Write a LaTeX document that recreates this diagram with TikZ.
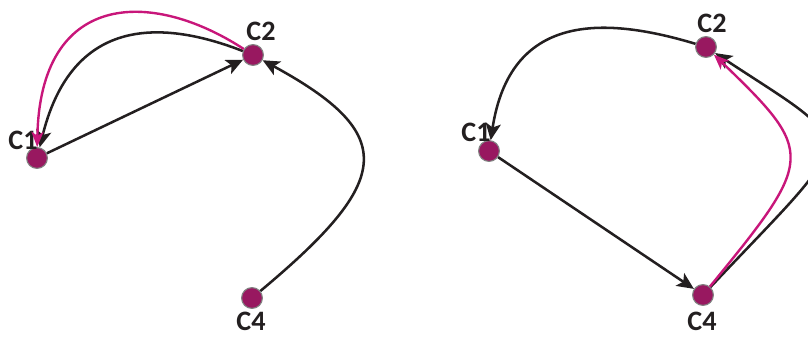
\documentclass[tikz,border=0pt]{standalone}
\usepackage{fontspec}
\setmainfont{Carlito}
\usepackage{tikz}
\usetikzlibrary{arrows.meta}
\definecolor{vtxfill}{RGB}{152,24,96}
\definecolor{vtxline}{RGB}{130,130,130}
\definecolor{hotpink}{RGB}{200,22,122}
\definecolor{ink}{RGB}{35,31,32}
\tikzset{
  vtx/.style={circle, fill=vtxfill, draw=vtxline, line width=0.8pt, minimum size=0.52cm, inner sep=0pt},
  lbl/.style={font=\fontsize{20}{22}\selectfont\bfseries, text=ink, inner sep=0pt},
  edg/.style={-{Stealth[length=4.2mm,width=3.8mm,inset=1mm]}, line width=1.8pt, ink},
  hot/.style={-{Stealth[length=3.8mm,width=3mm,inset=1mm]}, line width=1.7pt, hotpink},
}

\begin{document}
\begin{tikzpicture}[x=0.025cm,y=-0.025cm]
  \useasboundingbox (0,0) rectangle (808,337);
  \clip (0,0) rectangle (808,337);

  % --- left ---
  \node[vtx] (a1) at (37,158) {};
  \node[vtx] (a2) at (253,55) {};
  \node[vtx] (a4) at (252,298) {};
  \node[lbl] (a1t) at (23,140) {C1};
  \node[lbl] (a2t) at (261,31) {C2};
  \node[lbl] (a4t) at (251,321) {C4};
  \draw[edg] (a1) -- (a2);
  \draw[edg] (a2) .. controls (150,15) and (70,25) .. (a1);
  \draw[hot] (a2) .. controls (150,-12) and (40,-8) .. (a1);
  \draw[edg] (a4) .. controls (392,181) and (400,135) .. (a2);

  % --- right ---
  \node[vtx] (b1) at (489,151) {};
  \node[vtx] (b2) at (706,47) {};
  \node[vtx] (b4) at (703,295) {};
  \node[lbl] (b1t) at (476,132) {C1};
  \node[lbl] (b2t) at (712,23) {C2};
  \node[lbl] (b4t) at (702,321) {C4};
  \draw[edg] (b2) .. controls (600,15) and (510,15) .. (b1);
  \draw[edg] (b1) -- (b4);
  \draw[edg] (b4) .. controls (860,128) and (862,150) .. (b2);
  \draw[hot] (b4) .. controls (815,158) and (816,153) .. (b2);
\end{tikzpicture}
\end{document}
